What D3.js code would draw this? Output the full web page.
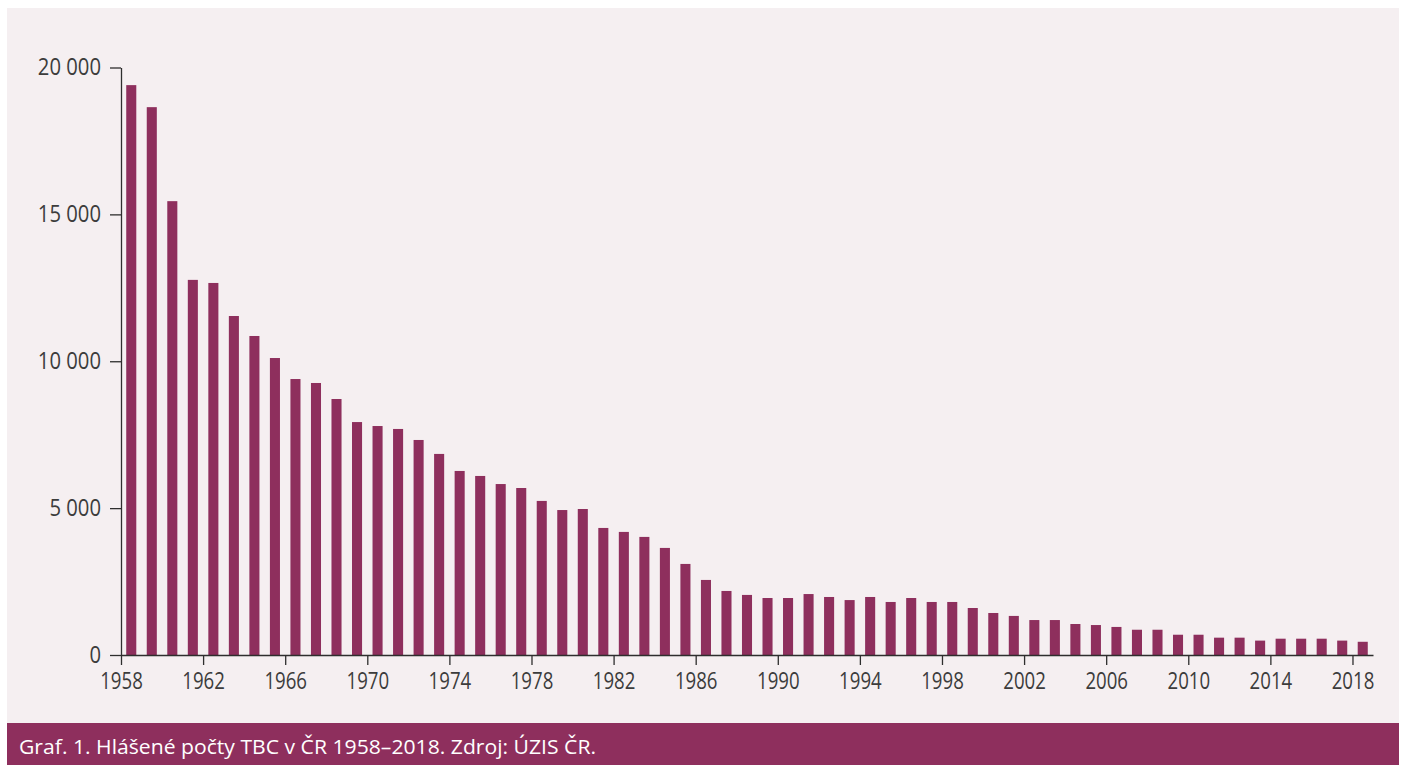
<!DOCTYPE html>
<html>
<head>
<meta charset="utf-8">
<script src="https://cdn.jsdelivr.net/npm/d3@7"></script>
<style>
  html, body { margin: 0; padding: 0; background: #fff; }
  svg { display: block; }
  .axis text { font-family: "Open Sans", sans-serif; font-size: 23px; fill: #3c3c3c; }
  .axis path, .axis line { stroke: #2e2e2e; stroke-width: 1.3; }
  .caption { font-family: "Open Sans", sans-serif; font-size: 20.5px; fill: #fff; }
</style>
</head>
<body>
<svg id="chart"></svg>
<script>
// years shown on the chart
const years = [
  1958, 1959, 1960, 1961, 1962, 1963, 1964, 1965, 1966, 1967,
  1968, 1969, 1970, 1971, 1972, 1973, 1974, 1975, 1976, 1977,
  1978, 1979, 1980, 1981, 1982, 1983, 1984, 1985, 1986, 1987,
  1988, 1989, 1990, 1991, 1992, 1993, 1994, 1995, 1996, 1997,
  1998, 1999, 2000, 2001, 2002, 2003, 2004, 2005, 2006, 2007,
  2008, 2009, 2010, 2011, 2012, 2013, 2014, 2015, 2016, 2017,
  2018
]

// reported TB cases
const cases = [
  19400, 18650, 15450, 12770, 12665, 11540, 10860, 10110, 9395, 9260,
  8715, 7930, 7795, 7695, 7320, 6845, 6265, 6095, 5820, 5685,
  5245, 4935, 4970, 4325, 4190, 4020, 3645, 3100, 2555, 2180,
  2045, 1940, 1940, 2075, 1975, 1870, 1975, 1805, 1940, 1805,
  1805, 1600, 1430, 1330, 1190, 1190, 1055, 1020, 955, 860,
  860, 690, 690, 590, 590, 490, 555, 555, 555, 490,
  450
]

const xTicks = [1958, 1962, 1966, 1970, 1974, 1978, 1982, 1986, 1990, 1994, 1998, 2002, 2006, 2010, 2014, 2018]
const yTicks = [0, 5000, 10000, 15000, 20000]

const captionText = 'Graf. 1. Hlášené počty TBC v ČR 1958–2018. Zdroj: ÚZIS ČR.'

const W = 1403
const H = 765
const plotLeft = 121, plotRight = 1373
const plotTop = 67.5, plotBottom = 655
const barColor = '#8e2f5d'

const svg = d3.select('#chart')
    .attr('width', W)
    .attr('height', H)

// pink panel + caption strip
svg.append('rect')
    .attr('x', 7).attr('y', 8)
    .attr('width', 1392).attr('height', 715)
    .attr('fill', '#f5eff1')
svg.append('rect')
    .attr('x', 7).attr('y', 723)
    .attr('width', 1392).attr('height', 42)
    .attr('fill', barColor)

const x = d3.scaleBand()
    .domain(years)
    .range([plotLeft, plotRight])
    .paddingInner(0.51)
    .paddingOuter(0.255)

// ticks sit at the start of each year's slot, so the axis uses a linear scale
const xAxisScale = d3.scaleLinear()
    .domain([years[0], years[years.length - 1] + 1])
    .range([plotLeft, plotRight])

const y = d3.scaleLinear()
    .domain([0, 20000])
    .range([plotBottom, plotTop])

const fmt = d3.formatLocale({ decimal: ',', thousands: ' ', grouping: [3], currency: ['', ''] }).format(',d')

svg.append('g')
    .selectAll('rect')
    .data(years)
    .enter()
    .append('rect')
    .attr('x', d => x(d))
    .attr('width', x.bandwidth())
    .attr('y', (d, i) => y(cases[i]))
    .attr('height', (d, i) => y(0) - y(cases[i]))
    .attr('fill', barColor)

const xAxis = svg.append('g')
    .attr('class', 'axis x')
    .attr('transform', `translate(0, ${plotBottom})`)
    .call(d3.axisBottom(xAxisScale)
        .tickValues(xTicks)
        .tickFormat(d3.format('d'))
        .tickSize(10)
        .tickSizeOuter(0)
        .tickPadding(8))

const yAxis = svg.append('g')
    .attr('class', 'axis y')
    .attr('transform', `translate(${plotLeft}, 0)`)
    .call(d3.axisLeft(y)
        .tickValues(yTicks)
        .tickFormat(fmt)
        .tickSize(11)
        .tickSizeOuter(0)
        .tickPadding(9))

const caption = svg.append('text')
    .attr('class', 'caption')
    .attr('x', 19)
    .attr('y', 754)
    .text(captionText)

// the original font is narrower, squeeze the glyphs a bit
const squeeze = (sel, k) => {
    sel.each(function () {
        const len = this.getComputedTextLength()
        d3.select(this)
            .attr('textLength', len * k)
            .attr('lengthAdjust', 'spacingAndGlyphs')
    })
}

document.fonts.ready.then(() => {
    squeeze(xAxis.selectAll('text'), 0.81)
    squeeze(yAxis.selectAll('text'), 0.88)
    caption.attr('textLength', 577).attr('lengthAdjust', 'spacingAndGlyphs')
})
</script>
</body>
</html>
